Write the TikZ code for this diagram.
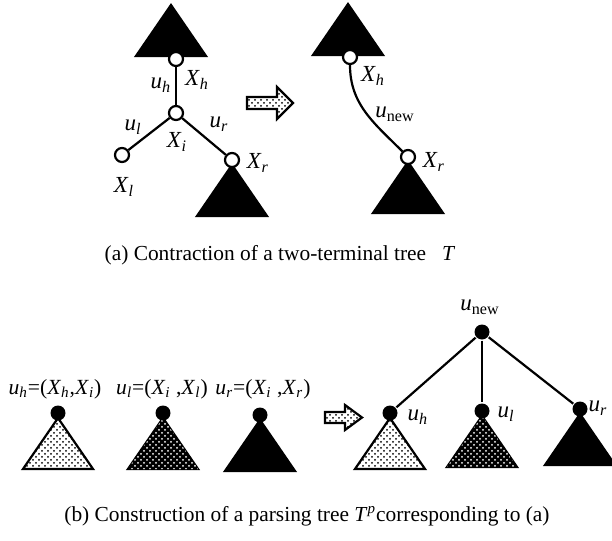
\documentclass[tikz,border=0pt]{standalone}
\usepackage{fontspec}
\setmainfont{Liberation Serif}
\usetikzlibrary{patterns}

\tikzset{
  term/.style={circle, draw, line width=1.1pt, fill=white, minimum size=7pt, inner sep=0pt},
  leaf/.style={circle, fill=black, minimum size=7.5pt, inner sep=0pt},
  lbl/.style={font=\fontsize{11.5}{13}\selectfont, inner sep=1pt},
  pairlbl/.style={font=\fontsize{10.8}{13}\selectfont, inner sep=1pt},
  caption/.style={font=\fontsize{10.7}{12}\selectfont},
  lightdots/.style={fill=white, postaction={pattern=crosshatch dots}},
  darkdots/.style={fill=black, postaction={pattern=crosshatch dots, pattern color=white}},
  every path/.append style={line width=1.1pt},
}
\newcommand\subtree[3]{\filldraw[#3] (#1,#2) -- ++(-35,51) -- ++(70,0) -- cycle;}
\newcommand\iv[2]{\textit{#1}\textsubscript{\textit{#2}}}

\begin{document}
\begin{tikzpicture}[x=0.5pt, y=-0.5pt]
\useasboundingbox (0,0) rectangle (612,541);

% (a) before contraction
\subtree{171}{5}{fill=black}
\subtree{232}{165}{fill=black}
\node[term] (xh) at (176,59) {};
\node[term] (xi) at (176,113) {};
\node[term] (xl) at (122,155) {};
\node[term] (xr) at (232,160) {};
\draw (xh) -- (xi);
\draw (xi) -- (xl);
\draw (xi) -- (xr);
\node[lbl] (uh) at (161,85) {\iv{u}{h}};
\node[lbl] (lxh) at (197,80) {\iv{X}{h}};
\node[lbl] (ul) at (133,127) {\iv{u}{l}};
\node[lbl] (lxi) at (177,142) {\iv{X}{i}};
\node[lbl] (ur) at (219,124) {\iv{u}{r}};
\node[lbl] (lxr) at (258,163) {\iv{X}{r}};
\node[lbl] (lxl) at (124,187) {\iv{X}{l}};

% block arrow
\filldraw[lightdots] (247,97) -- (277,97) -- (277,87) -- (293,103)
  -- (277,119) -- (277,109) -- (247,109) -- cycle;

% (a) after contraction
\subtree{348}{4}{fill=black}
\subtree{408}{162}{fill=black}
\node[term] (yh) at (350,57) {};
\node[term] (yr) at (408,157) {};
\draw (yh) to[out=-90, in=135] (yr);
\node[lbl] (lyh) at (373,76) {\iv{X}{h}};
\node[lbl] (unew) at (395,114) {\textit{u}\textsubscript{new}};
\node[lbl] (lyr) at (434,162) {\iv{X}{r}};

\node[caption] (capa) at (280,255) {(a) Contraction of a two-terminal tree\ \ \ \textit{T}};

% (b) parsing trees
\subtree{58}{418}{lightdots}
\subtree{163}{418}{darkdots}
\subtree{260}{420}{fill=black}
\node[leaf] (ph) at (58,413) {};
\node[leaf] (pl) at (163,413) {};
\node[leaf] (pr) at (260,415) {};
\node[pairlbl] (eh) at (55,389) {\iv{u}{h}=(\iv{X}{h},\iv{X}{i})};
\node[pairlbl] (el) at (162,389) {\iv{u}{l}=(\iv{X}{i} ,\iv{X}{l})};
\node[pairlbl] (er) at (263,389) {\iv{u}{r}=(\iv{X}{i} ,\iv{X}{r})};

\filldraw[lightdots] (325,412) -- (345,412) -- (345,405) -- (362,417.5)
  -- (345,430) -- (345,423) -- (325,423) -- cycle;

\subtree{390}{418}{lightdots}
\subtree{482}{416}{darkdots}
\subtree{580}{414}{fill=black}
\node[leaf] (root) at (482,332) {};
\node[leaf] (qh) at (390,413) {};
\node[leaf] (ql) at (482,411) {};
\node[leaf] (qr) at (580,409) {};
\draw (root) -- (qh);
\draw (root) -- (ql);
\draw (root) -- (qr);
\node[lbl] (rnew) at (480,307) {\textit{u}\textsubscript{new}};
\node[lbl] (rh) at (418,417) {\iv{u}{h}};
\node[lbl] (rl) at (506,414) {\iv{u}{l}};
\node[lbl] (rr) at (598,408) {\iv{u}{r}};

\node[caption] (capb) at (307,516) {(b) Construction of a parsing tree \textit{T}\textsuperscript{\textit{p}}corresponding to (a)};
\end{tikzpicture}
\end{document}
